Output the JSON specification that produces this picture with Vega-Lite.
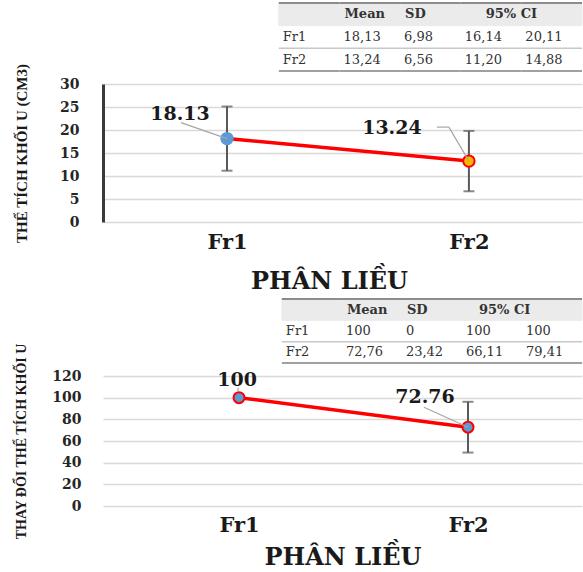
{
  "$schema": "https://vega.github.io/schema/vega-lite/v6.json",
  "background": "white",
  "padding": {"left": 14, "top": 2, "right": 0, "bottom": 0},
  "bounds": "flush",
  "spacing": 13,
  "config": {"view": {"stroke": null}, "font": "DejaVu Serif"},
  "datasets": {
    "table1": [
      {"row": "header", "col": "label", "text": ""},
      {"row": "header", "col": "Mean", "text": "Mean"},
      {"row": "header", "col": "SD", "text": "SD"},
      {"row": "header", "col": "lo", "text": "95% CI"},
      {"row": "header", "col": "hi", "text": ""},
      {"row": "Fr1", "col": "label", "text": "Fr1"},
      {"row": "Fr1", "col": "Mean", "text": "18,13"},
      {"row": "Fr1", "col": "SD", "text": "6,98"},
      {"row": "Fr1", "col": "lo", "text": "16,14"},
      {"row": "Fr1", "col": "hi", "text": "20,11"},
      {"row": "Fr2", "col": "label", "text": "Fr2"},
      {"row": "Fr2", "col": "Mean", "text": "13,24"},
      {"row": "Fr2", "col": "SD", "text": "6,56"},
      {"row": "Fr2", "col": "lo", "text": "11,20"},
      {"row": "Fr2", "col": "hi", "text": "14,88"}
    ],
    "table2": [
      {"row": "header", "col": "label", "text": ""},
      {"row": "header", "col": "Mean", "text": "Mean"},
      {"row": "header", "col": "SD", "text": "SD"},
      {"row": "header", "col": "lo", "text": "95% CI"},
      {"row": "header", "col": "hi", "text": ""},
      {"row": "Fr1", "col": "label", "text": "Fr1"},
      {"row": "Fr1", "col": "Mean", "text": "100"},
      {"row": "Fr1", "col": "SD", "text": "0"},
      {"row": "Fr1", "col": "lo", "text": "100"},
      {"row": "Fr1", "col": "hi", "text": "100"},
      {"row": "Fr2", "col": "label", "text": "Fr2"},
      {"row": "Fr2", "col": "Mean", "text": "72,76"},
      {"row": "Fr2", "col": "SD", "text": "23,42"},
      {"row": "Fr2", "col": "lo", "text": "66,11"},
      {"row": "Fr2", "col": "hi", "text": "79,41"}
    ],
    "volume": [
      {"fraction": "Fr1", "mean": 18.13, "sd": 6.98, "ci_lo": 16.14, "ci_hi": 20.11},
      {"fraction": "Fr2", "mean": 13.24, "sd": 6.56, "ci_lo": 11.2, "ci_hi": 14.88}
    ],
    "change": [
      {"fraction": "Fr1", "mean": 100, "sd": 0, "ci_lo": 100, "ci_hi": 100},
      {"fraction": "Fr2", "mean": 72.76, "sd": 23.42, "ci_lo": 66.11, "ci_hi": 79.41}
    ]
  },
  "vconcat": [
    {
      "width": 479,
      "height": 68,
      "data": {"name": "table1"},
      "layer": [
        {
          "transform": [{"filter": "datum.row === 'header'"}],
          "mark": {"type": "rect", "fill": "#ebebeb", "stroke": "#ebebeb", "strokeWidth": 1},
          "encoding": {
            "x": {"field": "col", "type": "nominal", "scale": {"type": "band", "domain": ["_1", "_2", "label", "Mean", "SD", "lo", "hi"], "paddingInner": 0, "paddingOuter": 0.45, "align": 1}, "axis": null},
            "y": {"field": "row", "type": "nominal", "scale": {"type": "band", "domain": ["header", "Fr1", "Fr2"], "paddingInner": 0, "paddingOuter": 0}, "axis": null}
          }
        },
        {
          "transform": [{"filter": "datum.row === 'header'"}],
          "mark": {"type": "rule", "color": "#8c8c8c", "strokeWidth": 2},
          "encoding": {
            "x": {"field": "col", "type": "nominal", "bandPosition": 0},
            "x2": {"field": "col", "bandPosition": 1},
            "y": {"field": "row", "type": "nominal", "bandPosition": 0}
          }
        },
        {
          "transform": [{"filter": "datum.row === 'Fr2'"}],
          "mark": {"type": "rule", "color": "#c8c8c8", "strokeWidth": 1.5},
          "encoding": {
            "x": {"field": "col", "type": "nominal", "bandPosition": 0},
            "x2": {"field": "col", "bandPosition": 1},
            "y": {"field": "row", "type": "nominal", "bandPosition": 0}
          }
        },
        {
          "transform": [{"filter": "datum.row === 'Fr2'"}],
          "mark": {"type": "rule", "color": "#a0a0a0", "strokeWidth": 2},
          "encoding": {
            "x": {"field": "col", "type": "nominal", "bandPosition": 0},
            "x2": {"field": "col", "bandPosition": 1},
            "y": {"field": "row", "type": "nominal", "bandPosition": 1}
          }
        },
        {
          "transform": [{"filter": "datum.row === 'header' && datum.col !== 'lo'"}],
          "mark": {"type": "text", "align": "left", "baseline": "middle", "dx": 5, "fontSize": 13, "fontWeight": "bold", "color": "#333333"},
          "encoding": {
            "x": {"field": "col", "type": "nominal", "bandPosition": 0},
            "y": {"field": "row", "type": "nominal"},
            "text": {"field": "text"}
          }
        },
        {
          "transform": [{"filter": "datum.row === 'header' && datum.col === 'lo'"}],
          "mark": {"type": "text", "align": "left", "baseline": "middle", "dx": 25, "fontSize": 13, "fontWeight": "bold", "color": "#333333"},
          "encoding": {
            "x": {"field": "col", "type": "nominal", "bandPosition": 0},
            "y": {"field": "row", "type": "nominal"},
            "text": {"field": "text"}
          }
        },
        {
          "transform": [{"filter": "datum.row !== 'header'"}],
          "mark": {"type": "text", "align": "left", "baseline": "middle", "dx": 4, "fontSize": 13, "color": "#333333"},
          "encoding": {
            "x": {"field": "col", "type": "nominal", "bandPosition": 0},
            "y": {"field": "row", "type": "nominal"},
            "text": {"field": "text"}
          }
        }
      ]
    },
    {
      "width": 479,
      "height": 138,
      "data": {"name": "volume"},
      "encoding": {
        "x": {
          "field": "fraction", "type": "nominal",
          "scale": {"type": "point", "padding": 0.49, "align": 0.523},
          "axis": {"title": "PHÂN LIỀU", "titleFont": "DejaVu Serif", "titleFontSize": 24, "titleFontWeight": "bold", "titleColor": "#1a1a1a", "titlePadding": 17, "titleX": 226, "labelFont": "DejaVu Serif", "labelFontSize": 21, "labelFontWeight": "bold", "labelColor": "#1a1a1a", "labelPadding": 9, "labelAngle": 0, "ticks": false, "domain": false, "grid": false}
        },
        "y": {
          "field": "mean", "type": "quantitative",
          "scale": {"domain": [0, 30], "nice": false, "zero": true},
          "axis": {"title": "THỂ TÍCH KHỐI U (CM3)", "titleFont": "Liberation Serif", "titleFontSize": 15, "titleFontWeight": "bold", "titleColor": "#1a1a1a", "titlePadding": 30, "labelFont": "DejaVu Serif", "labelFontSize": 14, "labelFontWeight": "bold", "labelColor": "#262626", "labelPadding": 24, "ticks": false, "domain": true, "domainColor": "#3a3a3a", "domainWidth": 3, "grid": true, "gridColor": "#d9d9d9", "gridWidth": 1.5, "values": [0, 5, 10, 15, 20, 25, 30]}
        }
      },
      "layer": [
        {
          "mark": {"type": "errorbar", "color": "#595959", "thickness": 2, "ticks": {"size": 11}},
          "encoding": {"yError": {"field": "sd"}}
        },
        {"mark": {"type": "line", "color": "#ff0000", "strokeWidth": 3.5}},
        {
          "mark": {"type": "circle", "size": 130, "strokeWidth": 2, "opacity": 1},
          "encoding": {
            "fill": {"field": "fraction", "type": "nominal", "scale": {"range": ["#5b9bd5", "#f5b700"]}, "legend": null},
            "stroke": {"field": "fraction", "type": "nominal", "scale": {"range": ["#5b9bd5", "#ff0000"]}, "legend": null}
          }
        },
        {
          "transform": [{"filter": "datum.fraction === 'Fr1'"}],
          "mark": {"type": "rule", "color": "#a6a6a6", "strokeWidth": 1.2, "xOffset": -46, "yOffset": -16},
          "encoding": {"x2": {"field": "fraction"}, "y2": {"field": "mean"}}
        },
        {
          "transform": [{"filter": "datum.fraction === 'Fr2'"}],
          "mark": {"type": "rule", "color": "#a6a6a6", "strokeWidth": 1.2, "xOffset": -20, "yOffset": -34},
          "encoding": {"x2": {"field": "fraction"}, "y2": {"field": "mean"}}
        },
        {
          "transform": [{"filter": "datum.fraction === 'Fr2'"}],
          "mark": {"type": "rule", "color": "#a6a6a6", "strokeWidth": 1.2, "xOffset": -32, "yOffset": -34, "x2Offset": -20, "y2Offset": -34},
          "encoding": {"x2": {"field": "fraction"}, "y2": {"field": "mean"}}
        },
        {
          "transform": [{"filter": "datum.fraction === 'Fr1'"}],
          "mark": {"type": "text", "fontSize": 19, "fontWeight": "bold", "color": "#1a1a1a", "dx": -47, "dy": -25, "align": "center", "baseline": "middle"},
          "encoding": {"text": {"field": "mean", "type": "nominal"}}
        },
        {
          "transform": [{"filter": "datum.fraction === 'Fr2'"}],
          "mark": {"type": "text", "fontSize": 19, "fontWeight": "bold", "color": "#1a1a1a", "dx": -77, "dy": -33, "align": "center", "baseline": "middle"},
          "encoding": {"text": {"field": "mean", "type": "nominal"}}
        }
      ]
    },
    {
      "width": 479,
      "height": 128,
      "data": {"name": "table2"},
      "layer": [
        {
          "transform": [{"filter": "datum.row === 'header'"}],
          "mark": {"type": "rect", "fill": "#ebebeb", "stroke": "#ebebeb", "strokeWidth": 1},
          "encoding": {
            "x": {"field": "col", "type": "nominal", "scale": {"type": "band", "domain": ["_1", "_2", "label", "Mean", "SD", "lo", "hi"], "paddingInner": 0, "paddingOuter": 0.49, "align": 1}, "axis": null},
            "y": {"field": "row", "type": "nominal", "scale": {"type": "band", "domain": ["_1", "_2", "_3", "header", "Fr1", "Fr2"], "paddingInner": 0, "paddingOuter": 0, "align": 1}, "axis": null}
          }
        },
        {
          "transform": [{"filter": "datum.row === 'header'"}],
          "mark": {"type": "rule", "color": "#8c8c8c", "strokeWidth": 2},
          "encoding": {
            "x": {"field": "col", "type": "nominal", "bandPosition": 0},
            "x2": {"field": "col", "bandPosition": 1},
            "y": {"field": "row", "type": "nominal", "bandPosition": 0}
          }
        },
        {
          "transform": [{"filter": "datum.row === 'Fr2'"}],
          "mark": {"type": "rule", "color": "#c8c8c8", "strokeWidth": 1.5},
          "encoding": {
            "x": {"field": "col", "type": "nominal", "bandPosition": 0},
            "x2": {"field": "col", "bandPosition": 1},
            "y": {"field": "row", "type": "nominal", "bandPosition": 0}
          }
        },
        {
          "transform": [{"filter": "datum.row === 'Fr2'"}],
          "mark": {"type": "rule", "color": "#a0a0a0", "strokeWidth": 2},
          "encoding": {
            "x": {"field": "col", "type": "nominal", "bandPosition": 0},
            "x2": {"field": "col", "bandPosition": 1},
            "y": {"field": "row", "type": "nominal", "bandPosition": 1}
          }
        },
        {
          "transform": [{"filter": "datum.row === 'header' && datum.col !== 'lo'"}],
          "mark": {"type": "text", "align": "left", "baseline": "middle", "dx": 5, "fontSize": 13, "fontWeight": "bold", "color": "#333333"},
          "encoding": {
            "x": {"field": "col", "type": "nominal", "bandPosition": 0},
            "y": {"field": "row", "type": "nominal"},
            "text": {"field": "text"}
          }
        },
        {
          "transform": [{"filter": "datum.row === 'header' && datum.col === 'lo'"}],
          "mark": {"type": "text", "align": "left", "baseline": "middle", "dx": 17, "fontSize": 13, "fontWeight": "bold", "color": "#333333"},
          "encoding": {
            "x": {"field": "col", "type": "nominal", "bandPosition": 0},
            "y": {"field": "row", "type": "nominal"},
            "text": {"field": "text"}
          }
        },
        {
          "transform": [{"filter": "datum.row !== 'header'"}],
          "mark": {"type": "text", "align": "left", "baseline": "middle", "dx": 4, "fontSize": 13, "color": "#333333"},
          "encoding": {
            "x": {"field": "col", "type": "nominal", "bandPosition": 0},
            "y": {"field": "row", "type": "nominal"},
            "text": {"field": "text"}
          }
        }
      ]
    },
    {
      "width": 479,
      "height": 130,
      "data": {"name": "change"},
      "encoding": {
        "x": {
          "field": "fraction", "type": "nominal",
          "scale": {"type": "point", "padding": 0.546, "align": 0.544},
          "axis": {"title": "PHÂN LIỀU", "titleFont": "DejaVu Serif", "titleFontSize": 24, "titleFontWeight": "bold", "titleColor": "#1a1a1a", "titlePadding": 10, "labelFont": "DejaVu Serif", "labelFontSize": 21, "labelFontWeight": "bold", "labelColor": "#1a1a1a", "labelPadding": 8, "labelAngle": 0, "ticks": false, "domain": false, "grid": false}
        },
        "y": {
          "field": "mean", "type": "quantitative",
          "scale": {"domain": [0, 120], "nice": false, "zero": true},
          "axis": {"title": "THAY ĐỔI THỂ TÍCH KHỐI U", "titleFont": "Liberation Serif", "titleFontSize": 14, "titleFontWeight": "bold", "titleColor": "#1a1a1a", "titlePadding": 23, "labelFont": "DejaVu Serif", "labelFontSize": 14, "labelFontWeight": "bold", "labelColor": "#262626", "labelPadding": 22, "ticks": false, "domain": false, "grid": true, "gridColor": "#d9d9d9", "gridWidth": 1.5, "values": [0, 20, 40, 60, 80, 100, 120]}
        }
      },
      "layer": [
        {
          "transform": [{"filter": "datum.sd > 0"}],
          "mark": {"type": "errorbar", "color": "#595959", "thickness": 2, "ticks": {"size": 11}},
          "encoding": {"yError": {"field": "sd"}}
        },
        {"mark": {"type": "line", "color": "#ff0000", "strokeWidth": 3.5}},
        {"mark": {"type": "circle", "size": 120, "strokeWidth": 2, "opacity": 1, "fill": "#5b9bd5", "stroke": "#ff0000"}},
        {
          "transform": [{"filter": "datum.fraction === 'Fr1'"}],
          "mark": {"type": "rule", "color": "#a6a6a6", "strokeWidth": 1.2, "xOffset": -1, "yOffset": -10, "x2Offset": -1, "y2Offset": -6},
          "encoding": {"x2": {"field": "fraction"}, "y2": {"field": "mean"}}
        },
        {
          "transform": [{"filter": "datum.fraction === 'Fr2'"}],
          "mark": {"type": "rule", "color": "#a6a6a6", "strokeWidth": 1.2, "xOffset": -44, "yOffset": -20},
          "encoding": {"x2": {"field": "fraction"}, "y2": {"field": "mean"}}
        },
        {
          "transform": [{"filter": "datum.fraction === 'Fr1'"}],
          "mark": {"type": "text", "fontSize": 19, "fontWeight": "bold", "color": "#1a1a1a", "dx": -2, "dy": -18, "align": "center", "baseline": "middle"},
          "encoding": {"text": {"field": "mean", "type": "nominal"}}
        },
        {
          "transform": [{"filter": "datum.fraction === 'Fr2'"}],
          "mark": {"type": "text", "fontSize": 19, "fontWeight": "bold", "color": "#1a1a1a", "dx": -43, "dy": -30, "align": "center", "baseline": "middle"},
          "encoding": {"text": {"field": "mean", "type": "nominal"}}
        }
      ]
    }
  ]
}
